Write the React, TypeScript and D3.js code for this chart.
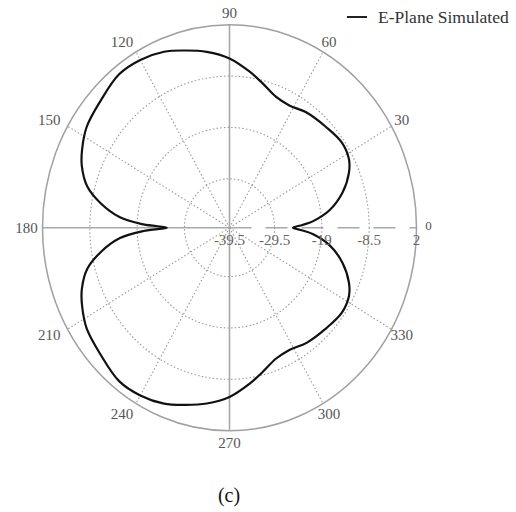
import React from "react";
import * as d3 from "d3";

// E-plane pattern, degrees and dB
const angles = [
  0, 2, 4, 9, 16, 23, 28, 35, 44, 54, 62, 69, 76, 82, 90, 98, 105, 112, 120, 128, 138, 147, 154, 159, 165, 170, 175, 178, 180,
  182, 185, 190, 195, 201, 206, 213, 222, 232, 240, 248, 255, 262, 270, 278, 284, 291, 298, 306, 316, 325, 332, 337, 344, 351, 356, 358,
];
const gains = [
  -25.4, -23.3, -21.0, -17.1, -13.4, -10.7, -9.5, -9.1, -9.8, -10.4, -11.2, -10.8, -9.1, -7.3, -4.9, -3.2, -2.0, -0.7, 0.1, 0.3, -0.9, -1.7, -3.1, -4.4, -6.8, -10.4, -15.1, -20.4, -25.6,
  -20.4, -15.1, -10.4, -6.8, -4.4, -3.1, -1.7, -0.9, 0.3, 0.1, -0.7, -2.0, -3.2, -4.9, -7.3, -9.1, -10.8, -11.2, -10.4, -9.8, -9.1, -9.5, -10.7, -13.4, -17.1, -21.0, -23.3,
];
const ringTicks = [-39.5, -29.5, -19, -8.5, 2];
const ringLabels = ["-39.5", "-29.5", "-19", "-8.5", "2"];
const spokeAngles = [0, 30, 60, 90, 120, 150, 180, 210, 240, 270, 300, 330];
const legendLabel = "E-Plane Simulated";
const caption = "(c)";

const W = 516;
const H = 512;
const cx = 229.5;
const cy = 227.7;
const rx = 187;
const ry = 203;

const App = () => {
  // radial scale: dB -> fraction of outer ring
  const r = d3.scaleLinear().domain([-39.5, 2]).range([0, 1]);
  const px = (deg: number, f: number) => cx + rx * f * Math.cos((deg * Math.PI) / 180);
  const py = (deg: number, f: number) => cy - ry * f * Math.sin((deg * Math.PI) / 180);

  const pts: [number, number][] = angles.map((a, i) => [px(a, r(gains[i])), py(a, r(gains[i]))]);
  const line = d3.line().curve(d3.curveCatmullRomClosed.alpha(0.5));

  const font = "'Liberation Serif', 'Times New Roman', serif";
  const grid = "#9a9a9a";

  return (
    <svg width={W} height={H} style={{ position: "absolute", left: 0, top: 0, background: "#fff" }}>
      {/* dotted rings */}
      {ringTicks.slice(1, -1).map((t) => (
        <ellipse key={t} cx={cx} cy={cy} rx={rx * r(t)} ry={ry * r(t)} fill="none" stroke={grid} strokeWidth={1.1} strokeDasharray="1.5,2.2" />
      ))}
      {/* dotted spokes */}
      {spokeAngles
        .filter((a) => a % 90 !== 0)
        .map((a) => (
          <line key={a} x1={cx} y1={cy} x2={px(a, 1)} y2={py(a, 1)} stroke={grid} strokeWidth={1.1} strokeDasharray="1.5,2.2" />
        ))}
      {/* main axes */}
      <line x1={px(180, 1)} y1={cy} x2={cx} y2={cy} stroke="#a8a8a8" strokeWidth={1.6} />
      <line x1={cx} y1={cy} x2={px(0, 1)} y2={cy} stroke="#a8a8a8" strokeWidth={1.6} strokeDasharray="22,14" />
      <line x1={cx} y1={py(90, 1)} x2={cx} y2={py(270, 1)} stroke="#a8a8a8" strokeWidth={1.6} />
      {/* outer ring */}
      <ellipse cx={cx} cy={cy} rx={rx} ry={ry} fill="none" stroke="#a0a0a0" strokeWidth={1.5} />

      {/* pattern */}
      <path d={line(pts) || ""} fill="none" stroke="#111" strokeWidth={2.2} />

      {/* radial tick labels */}
      {ringTicks.map((t, i) => (
        <text key={t} x={px(0, r(t))} y={cy + 17} textAnchor="middle" fontFamily={font} fontSize={15} fill="#666">
          {ringLabels[i]}
        </text>
      ))}

      {/* angle labels */}
      {spokeAngles.map((a) => {
        const c = Math.cos((a * Math.PI) / 180);
        const s = Math.sin((a * Math.PI) / 180);
        const x = cx + (rx + 12) * c + (c < -0.1 ? -8 : 0) + (a === 180 ? 4 : 0);
        const y = cy - (ry + 12) * s + 5;
        return (
          <text key={a} x={a === 0 ? x : x} y={a === 0 ? y - 3 : y} textAnchor="middle" fontFamily={font} fontSize={a === 0 ? 13 : 15} fill="#555">
            {a}
          </text>
        );
      })}

      {/* legend */}
      <line x1={347} y1={17} x2={367} y2={17} stroke="#222" strokeWidth={2} />
      <text x={378} y={23} fontFamily={font} fontSize={17.5} fill="#333">
        {legendLabel}
      </text>

      {/* caption */}
      <text x={229} y={502} textAnchor="middle" fontFamily={font} fontSize={20} fill="#111">
        {caption}
      </text>
    </svg>
  );
};

export default App;
